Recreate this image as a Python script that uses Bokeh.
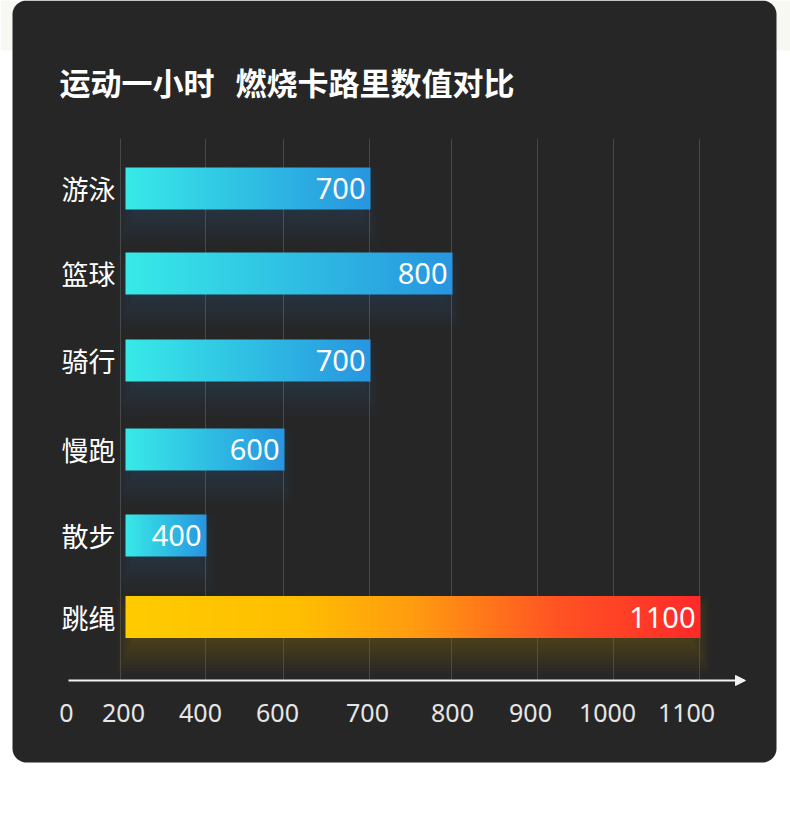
import numpy as np
from bokeh.plotting import figure
from bokeh.models import Range1d, Arrow, NormalHead
from bokeh.core.properties import value
from bokeh.embed import file_html
from bokeh.resources import INLINE

# ---------------- data ----------------
title = "运动一小时\u00a0\u00a0\u00a0燃烧卡路里数值对比"
categories = ["游泳", "篮球", "骑行", "慢跑", "散步", "跳绳"]
calories = [700, 800, 700, 600, 400, 1100]
highlight = [False, False, False, False, False, True]
tick_values = [0, 200, 400, 600, 700, 800, 900, 1000, 1100]
tick_labels = ["0", "200", "400", "600", "700", "800", "900", "1000", "1100"]

# ---------------- layout (page pixel coordinates) ----------------
W, H = 790, 815
AXIS_PX = [68, 120, 205, 283, 369, 451, 537, 613, 699]   # where each tick value sits
LABEL_PX = [66, 123, 200, 277, 367, 452, 530, 607, 686]  # tick label centres
ROW_Y = [188, 273, 360, 449, 535, 616.5]
BAR_H = 42
BAR_GAP = 5          # bars start slightly right of the first grid line
GRID_TOP, AXIS_Y = 138, 680
CARD = (12, 0, 776, 762, 14)

BLUE_STOPS = [(0.0, (56, 234, 232)), (1.0, (40, 150, 224))]
HOT_STOPS = [(0.0, (255, 204, 0)), (0.3, (255, 190, 2)), (0.5, (255, 156, 16)),
             (0.75, (255, 84, 36)), (1.0, (255, 42, 42))]

CJK = value("Noto Sans CJK SC")
LATIN = value("Noto Sans")


def to_px(v):
    return np.interp(v, tick_values, AXIS_PX)


def rounded(x0, y0, x1, y1, r, n=16):
    xs, ys = [], []
    for cx, cy, a0 in [(x0 + r, y0 + r, np.pi), (x1 - r, y0 + r, 1.5 * np.pi),
                       (x1 - r, y1 - r, 0.0), (x0 + r, y1 - r, 0.5 * np.pi)]:
        t = np.linspace(a0, a0 + 0.5 * np.pi, n)
        xs.extend(cx + r * np.cos(t))
        ys.extend(cy + r * np.sin(t))
    return xs, ys


def gradient(stops, n=256):
    pos = [s[0] for s in stops]
    img = np.empty((1, n), dtype=np.uint32)
    view = img.view(dtype=np.uint8).reshape((1, n, 4))
    t = np.linspace(0, 1, n)
    for c in range(3):
        view[0, :, c] = np.interp(t, pos, [s[1][c] for s in stops]).astype(np.uint8)
    view[0, :, 3] = 255
    return img


p = figure(width=W, height=H, output_backend="svg", toolbar_location=None,
           x_range=Range1d(0, W), y_range=Range1d(H, 0),
           x_axis_type=None, y_axis_type=None, min_border=0)
p.outline_line_color = None
p.background_fill_color = "#ffffff"
p.border_fill_color = "#ffffff"

# page strip behind card
p.quad(left=[0], right=[W], top=[0], bottom=[50], fill_color="#f8f8f3", line_color=None)

# card
cx, cy = rounded(*CARD)
p.patch(cx, cy, fill_color="#262626", line_color=None)

# title
p.text(x=[59], y=[81], text=[title], text_font=CJK, text_font_size="31px",
       text_font_style="bold", text_color="#ffffff", text_baseline="middle")

# grid lines
gx = to_px(tick_values[1:])
p.segment(x0=gx, y0=[GRID_TOP] * len(gx), x1=gx, y1=[AXIS_Y] * len(gx),
          line_color="#474747", line_width=1)

bar_left = to_px(tick_values[1]) + BAR_GAP
bar_right = to_px(calories) + 1
tops = [y - BAR_H / 2 for y in ROW_Y]
bots = [y + BAR_H / 2 for y in ROW_Y]

# soft glow beneath bars
expansions = np.linspace(-14, 18, 12)
for i in range(len(categories)):
    col = "#2fb0ec" if not highlight[i] else "#ffcc00"
    tot = 0.19 if highlight[i] else 0.13
    a = tot / len(expansions)
    for e in expansions:
        h = 0.5 * e
        p.quad(left=[bar_left - h], right=[bar_right[i] + h],
               top=[tops[i] + 18 - e], bottom=[bots[i] + 18 + e],
               fill_color=col, fill_alpha=a, line_color=None)

# bars with gradient
blue_img = gradient(BLUE_STOPS)
hot_img = gradient(HOT_STOPS)
for i in range(len(categories)):
    img = hot_img if highlight[i] else blue_img
    p.image_rgba(image=[img], x=bar_left, y=tops[i], dw=bar_right[i] - bar_left, dh=BAR_H)

# value labels
p.text(x=bar_right - 5, y=ROW_Y, text=[str(v) for v in calories], text_font=LATIN,
       text_font_size="29px", text_color="#ffffff", text_align="right",
       text_baseline="middle")

# category labels
p.text(x=[115] * len(categories), y=ROW_Y, text=categories, text_font=CJK,
       text_font_size="27px", text_color="#ffffff", text_align="right",
       text_baseline="middle")

# x axis with arrow
p.add_layout(Arrow(end=NormalHead(size=10, fill_color="#f2f2f2", line_color="#f2f2f2"),
                   x_start=AXIS_PX[0], y_start=AXIS_Y, x_end=745, y_end=AXIS_Y,
                   line_color="#f2f2f2", line_width=2))
p.text(x=LABEL_PX, y=[712] * len(tick_labels), text=tick_labels, text_font=LATIN,
       text_font_size="25px", text_color="#e6e6e6", text_align="center",
       text_baseline="middle")

open("out.html", "w").write(file_html(p, INLINE))
